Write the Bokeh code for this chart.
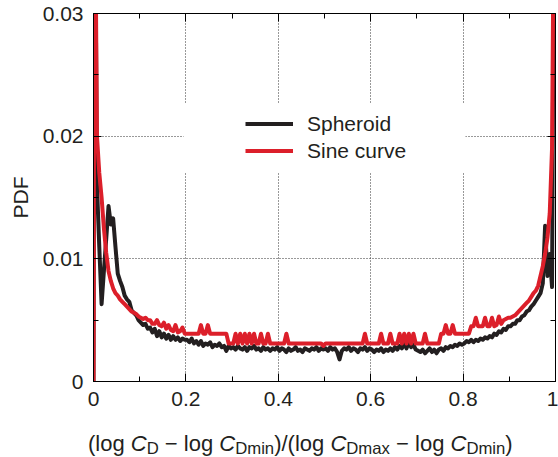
import numpy as np
from bokeh.plotting import figure
from bokeh.models import (FixedTicker, CustomJSTickFormatter, LinearAxis, Legend,
                          LegendItem, BoxAnnotation, Div, Range1d)
from bokeh.layouts import column
from bokeh.embed import file_html
from bokeh.resources import INLINE

# ---- data (PDF per bin, 200 bins of width 0.005) ----
bin_centers = np.round(np.arange(200) * 0.005 + 0.0025, 4)
x_vals = [0.0] + list(bin_centers)

spheroid = [
    0.045, 0.016, 0.011, 0.0063, 0.0090, 0.0116, 0.0143, 0.0128, 0.0133, 0.0110,
    0.0088, 0.0082, 0.0077, 0.0070, 0.0067, 0.0065, 0.0058, 0.0056, 0.0054, 0.0050,
    0.0048, 0.0046, 0.0047, 0.0043, 0.0044, 0.0040, 0.0043, 0.0037, 0.0041, 0.0036,
    0.0039, 0.0035, 0.0038, 0.0034, 0.0037, 0.0034, 0.0036, 0.0033, 0.0035, 0.0034,
    0.0034, 0.0032, 0.0035, 0.0031, 0.0033, 0.0030, 0.0033, 0.0029, 0.0031, 0.0030,
    0.0032, 0.0028, 0.0030, 0.0029, 0.0031, 0.0028, 0.0029, 0.0025, 0.0029, 0.0027,
    0.0028, 0.0026, 0.0029, 0.0027, 0.0026, 0.0028, 0.0025, 0.0028, 0.0027, 0.0029,
    0.0026, 0.0027, 0.0025, 0.0028, 0.0026, 0.0027, 0.0025, 0.0027, 0.0026, 0.0028,
    0.0025, 0.0027, 0.0026, 0.0024, 0.0027, 0.0025, 0.0026, 0.0028, 0.0025, 0.0026,
    0.0024, 0.0027, 0.0026, 0.0025, 0.0027, 0.0026, 0.0028, 0.0025, 0.0027, 0.0026,
    0.0027, 0.0025, 0.0028, 0.0026, 0.0027, 0.0024, 0.0018, 0.0025, 0.0027, 0.0026,
    0.0028, 0.0025, 0.0027, 0.0026, 0.0024, 0.0027, 0.0026, 0.0028, 0.0025, 0.0027,
    0.0026, 0.0024, 0.0026, 0.0025, 0.0027, 0.0024, 0.0026, 0.0025, 0.0027, 0.0025,
    0.0028, 0.0026, 0.0029, 0.0027, 0.0031, 0.0027, 0.0032, 0.0028, 0.0030, 0.0026,
    0.0025, 0.0024, 0.0026, 0.0023, 0.0025, 0.0027, 0.0024, 0.0026, 0.0023, 0.0026,
    0.0027, 0.0025, 0.0028, 0.0027, 0.0029, 0.0028, 0.0030, 0.0029, 0.0031, 0.0030,
    0.0031, 0.0033, 0.0032, 0.0034, 0.0032, 0.0034, 0.0033, 0.0035, 0.0034, 0.0036,
    0.0035, 0.0037, 0.0036, 0.0039, 0.0038, 0.0041, 0.0040, 0.0043, 0.0042, 0.0045,
    0.0045, 0.0047, 0.0047, 0.0050, 0.0050, 0.0053, 0.0054, 0.0057, 0.0058, 0.0061,
    0.0063, 0.0066, 0.0069, 0.0072, 0.0080, 0.0127, 0.0086, 0.0104, 0.0077, 0.045,
]

sine_curve = [
    0.045, 0.0200, 0.0170, 0.0150, 0.0125, 0.0105, 0.0090, 0.0082, 0.0076, 0.0072,
    0.0070, 0.0067, 0.0065, 0.0063, 0.0061, 0.0059, 0.0057, 0.0056, 0.0055, 0.0053,
    0.0052, 0.0051, 0.0052, 0.0050, 0.0050, 0.0047, 0.0047, 0.0050, 0.0046, 0.0045,
    0.0048, 0.0043, 0.0046, 0.0042, 0.0041, 0.0046, 0.0040, 0.0041, 0.0044, 0.0039,
    0.0039, 0.0039, 0.0039, 0.0039, 0.0039, 0.0039, 0.0046, 0.0039, 0.0039, 0.0046,
    0.0039, 0.0039, 0.0039, 0.0039, 0.0039, 0.0039, 0.0039, 0.0039, 0.0031, 0.0031,
    0.0031, 0.0039, 0.0031, 0.0039, 0.0031, 0.0039, 0.0031, 0.0039, 0.0031, 0.0039,
    0.0031, 0.0031, 0.0039, 0.0031, 0.0031, 0.0039, 0.0031, 0.0031, 0.0031, 0.0031,
    0.0031, 0.0031, 0.0031, 0.0039, 0.0031, 0.0031, 0.0031, 0.0031, 0.0031, 0.0031,
    0.0031, 0.0031, 0.0031, 0.0031, 0.0031, 0.0031, 0.0031, 0.0031, 0.0031, 0.0029,
    0.0031, 0.0031, 0.0031, 0.0031, 0.0031, 0.0031, 0.0031, 0.0031, 0.0031, 0.0031,
    0.0031, 0.0031, 0.0031, 0.0031, 0.0031, 0.0031, 0.0031, 0.0039, 0.0031, 0.0031,
    0.0031, 0.0031, 0.0031, 0.0031, 0.0039, 0.0031, 0.0031, 0.0031, 0.0039, 0.0031,
    0.0031, 0.0031, 0.0039, 0.0031, 0.0039, 0.0031, 0.0039, 0.0031, 0.0039, 0.0031,
    0.0031, 0.0031, 0.0031, 0.0039, 0.0031, 0.0031, 0.0031, 0.0031, 0.0031, 0.0031,
    0.0039, 0.0039, 0.0046, 0.0039, 0.0039, 0.0046, 0.0039, 0.0039, 0.0039, 0.0039,
    0.0039, 0.0039, 0.0039, 0.0045, 0.0045, 0.0052, 0.0045, 0.0045, 0.0045, 0.0052,
    0.0045, 0.0045, 0.0052, 0.0045, 0.0046, 0.0053, 0.0047, 0.0050, 0.0051, 0.0052,
    0.0052, 0.0053, 0.0054, 0.0056, 0.0058, 0.0060, 0.0062, 0.0064, 0.0066, 0.0069,
    0.0072, 0.0074, 0.0078, 0.0086, 0.0094, 0.0104, 0.0117, 0.0137, 0.0190, 0.045,
]

spheroid_y = [0.0] + spheroid
sine_y = [0.0] + sine_curve

x_ticks = [0, 0.2, 0.4, 0.6, 0.8, 1.0]
x_minor = [0.1, 0.3, 0.5, 0.7, 0.9]
y_ticks = [0, 0.01, 0.02, 0.03]
y_minor = [0.005, 0.015, 0.025]
series_names = ["Spheroid", "Sine curve"]

FONT = "Liberation Sans"
TXT = "#231f20"
BLACK = "#231f20"
RED = "#dc1f2a"

p = figure(frame_width=462, frame_height=368, x_range=Range1d(0, 1), y_range=Range1d(0, 0.03),
           output_backend="svg", toolbar_location=None,
           min_border_left=93, min_border_right=3, min_border_top=13, min_border_bottom=45)
p.background_fill_color = "white"
p.border_fill_color = "white"
p.outline_line_color = "black"
p.outline_line_width = 1

# main axes
for ax, ticks, minor in ((p.xaxis[0], x_ticks, x_minor), (p.yaxis[0], y_ticks, y_minor)):
    ax.ticker = FixedTicker(ticks=ticks, minor_ticks=minor)
    ax.major_tick_in = 8
    ax.major_tick_out = 0
    ax.minor_tick_in = 5
    ax.minor_tick_out = 0
    ax.axis_line_color = "black"
    ax.major_tick_line_color = "black"
    ax.minor_tick_line_color = "black"
    ax.major_label_text_font = FONT
    ax.major_label_text_font_size = "21px"
    ax.major_label_text_color = TXT
    ax.major_label_standoff = 10

p.xaxis.formatter = CustomJSTickFormatter(
    code="return tick == 0 ? '0' : (Math.abs(tick - 1) < 1e-9 ? '1' : tick.toFixed(1));")
p.yaxis.formatter = CustomJSTickFormatter(
    code="return tick == 0 ? '0' : tick.toFixed(2);")

p.yaxis.axis_label = "PDF"
p.yaxis.axis_label_text_font = FONT
p.yaxis.axis_label_text_font_size = "21px"
p.yaxis.axis_label_text_font_style = "normal"
p.yaxis.axis_label_text_color = TXT
p.yaxis.axis_label_standoff = 8

# mirrored tick axes (top and right)
for loc, ticks, minor in (("above", x_ticks, x_minor), ("right", y_ticks, y_minor)):
    ax = LinearAxis(ticker=FixedTicker(ticks=ticks, minor_ticks=minor),
                    formatter=CustomJSTickFormatter(code="return '';"),
                    major_tick_in=8, major_tick_out=0, minor_tick_in=5, minor_tick_out=0,
                    major_label_text_font_size="0px", major_label_standoff=0,
                    axis_line_color="black")
    p.add_layout(ax, loc)

# grid
p.xgrid.ticker = FixedTicker(ticks=[0.2, 0.4, 0.6, 0.8])
p.ygrid.ticker = FixedTicker(ticks=[0.01, 0.02])
for g in (p.xgrid[0], p.ygrid[0]):
    g.grid_line_color = "#333333"
    g.grid_line_dash = "1 2"
    g.grid_line_width = 1

r1 = p.line(x_vals, spheroid_y, line_color=BLACK, line_width=4, line_join="round")
r2 = p.line(x_vals, sine_y, line_color=RED, line_width=4, line_join="round")

# white area behind the legend (grid is interrupted there)
box = BoxAnnotation(left=0.195, right=0.805, bottom=0.0170, top=0.0227,
                    fill_color="white", fill_alpha=1.0, line_alpha=0)
p.add_layout(box)

legend = Legend(items=[LegendItem(label=series_names[0], renderers=[r1]),
                       LegendItem(label=series_names[1], renderers=[r2])],
                location=(152, 217), padding=0, margin=0, spacing=0,
                glyph_width=48, glyph_height=27, label_height=27, label_standoff=14,
                label_text_font=FONT, label_text_font_size="21px", label_text_color=TXT,
                background_fill_alpha=0, border_line_alpha=0)
p.add_layout(legend)

SUB = '<span style="font-size:76%; vertical-align:-0.18em;">'
label_html = (
    '<div style="font-family: \'Liberation Sans\', Arial, sans-serif; font-size: 22px; '
    'color: #231f20; white-space: nowrap; line-height: 24px; padding-top: 6px;">'
    '(log <i>C</i>' + SUB + 'D</span> &minus; log <i>C</i>' + SUB + 'Dmin</span>)/'
    '(log <i>C</i>' + SUB + 'Dmax</span> &minus; log <i>C</i>' + SUB + 'Dmin</span>)'
    '</div>'
)
xlabel = Div(text=label_html, width=460, height=31, margin=(0, 0, 0, 88))

layout = column(p, xlabel, spacing=0)
open("out.html", "w").write(file_html(layout, INLINE))
